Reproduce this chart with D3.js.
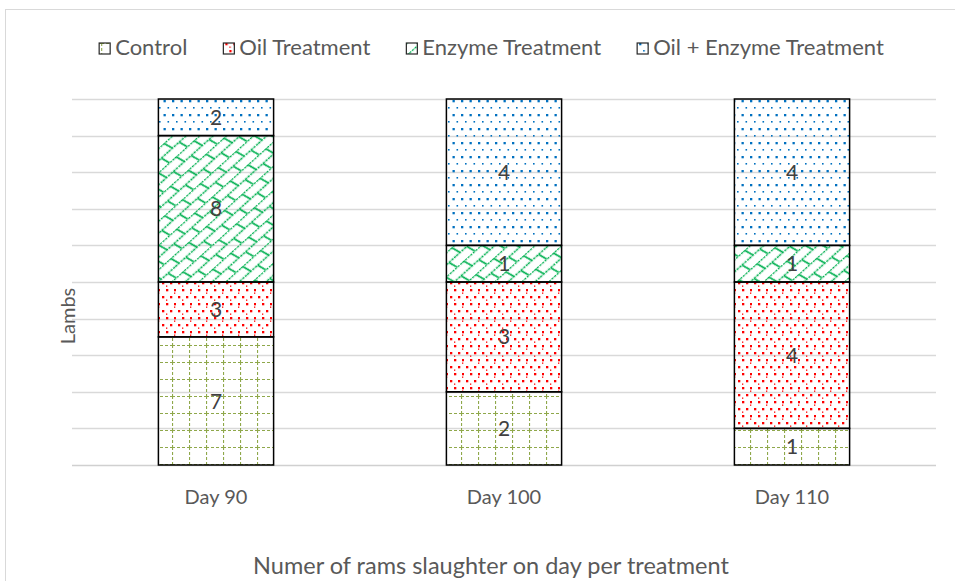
<!DOCTYPE html>
<html>
<head>
<meta charset="utf-8">
<script src="https://cdn.jsdelivr.net/npm/d3@7"></script>
<style>
    body { margin: 0; background: #fff; }
    #chart-container { width: 955px; height: 581px; }
    text { font-family: Lato, "Open Sans", sans-serif; }
</style>
</head>
<body>
<div id="chart-container"></div>
<script>
// chart values
var categories = ["Day 90", "Day 100", "Day 110"];
var seriesNames = ["Control", "Oil Treatment", "Enzyme Treatment", "Oil + Enzyme Treatment"];
var controlValues = [7, 2, 1];
var oilValues = [3, 3, 4];
var enzymeValues = [8, 1, 1];
var oilEnzymeValues = [2, 4, 4];
var gridTicks = [0, 0.1, 0.2, 0.3, 0.4, 0.5, 0.6, 0.7, 0.8, 0.9, 1];
var yAxisTitle = "Lambs";
var chartTitle = "Numer of rams slaughter on day per treatment";

function buildPatterns(defs) {
    // Control: dashed olive grid
    var p1 = defs.append("pattern")
        .attr("id", "pat-control")
        .attr("patternUnits", "userSpaceOnUse")
        .attr("width", 17).attr("height", 17)
        .attr("x", 2).attr("y", 5);
    p1.append("line").attr("x1", 0.5).attr("y1", 0).attr("x2", 0.5).attr("y2", 17)
        .attr("stroke", "#8FA84A").attr("stroke-width", 1.2).attr("stroke-dasharray", "3 2");
    p1.append("line").attr("x1", 0).attr("y1", 0.5).attr("x2", 17).attr("y2", 0.5)
        .attr("stroke", "#8FA84A").attr("stroke-width", 1.2).attr("stroke-dasharray", "3 2");

    // Oil: red dots
    var p2 = defs.append("pattern")
        .attr("id", "pat-oil")
        .attr("patternUnits", "userSpaceOnUse")
        .attr("width", 16).attr("height", 14);
    [[2, 2, 2.3], [10, 2, 2.3], [6, 9, 2.3], [14, 9, 2.3], [6, 5.5, 1.3], [14, 12.5, 1.3]].forEach(function(d) {
        p2.append("rect").attr("x", d[0]).attr("y", d[1]).attr("width", d[2]).attr("height", d[2])
            .attr("fill", "#FF0000");
    });

    // Enzyme: green diagonal brick
    var green = "#00B050";
    var p3 = defs.append("pattern")
        .attr("id", "pat-enzyme")
        .attr("patternUnits", "userSpaceOnUse")
        .attr("width", 24).attr("height", 18)
        .attr("patternTransform", "rotate(-42)");
    p3.append("line").attr("x1", 0).attr("y1", 0.5).attr("x2", 24).attr("y2", 0.5)
        .attr("stroke", green).attr("stroke-width", 1.7).attr("stroke-dasharray", "2.5 1");
    p3.append("line").attr("x1", 0).attr("y1", 9.5).attr("x2", 24).attr("y2", 9.5)
        .attr("stroke", green).attr("stroke-width", 1.7).attr("stroke-dasharray", "2.5 1");
    p3.append("line").attr("x1", 2).attr("y1", 0.5).attr("x2", 5).attr("y2", 9.5)
        .attr("stroke", green).attr("stroke-width", 1.7);
    p3.append("line").attr("x1", 14).attr("y1", 9.5).attr("x2", 17).attr("y2", 18.5)
        .attr("stroke", green).attr("stroke-width", 1.7);

    // Oil + Enzyme: blue dots
    var p4 = defs.append("pattern")
        .attr("id", "pat-oilenzyme")
        .attr("patternUnits", "userSpaceOnUse")
        .attr("width", 17).attr("height", 14);
    [[2, 2, 2.3], [10.5, 2, 2.3], [6, 9, 1.6], [14.5, 9, 1.6]].forEach(function(d) {
        p4.append("rect").attr("x", d[0]).attr("y", d[1]).attr("width", d[2]).attr("height", d[2])
            .attr("fill", "#0070C0");
    });
}

function drawChart() {
    var width = 955,
        height = 581,
        plotLeft = 72,
        plotRight = 936,
        plotTop = 99,
        plotBottom = 465,
        patternIds = ["pat-control", "pat-oil", "pat-enzyme", "pat-oilenzyme"],
        allValues = [controlValues, oilValues, enzymeValues, oilEnzymeValues];

    var svg = d3.select("#chart-container")
        .append("svg")
        .attr("width", width)
        .attr("height", height);

    buildPatterns(svg.append("defs"));

    // outer border
    svg.append("rect")
        .attr("x", 5.5).attr("y", 9.5)
        .attr("width", 1000).attr("height", 1000)
        .attr("fill", "none")
        .attr("stroke", "#D9D9D9");

    var x = d3.scaleBand()
        .domain(categories)
        .range([plotLeft, plotRight])
        .paddingInner(0.6)
        .paddingOuter(0.3);

    var y = d3.scaleLinear()
        .domain([0, 1])
        .range([plotBottom, plotTop]);

    // gridlines
    svg.append("g")
        .attr("class", "grid")
        .selectAll("line")
        .data(gridTicks)
        .enter()
        .append("line")
        .attr("x1", plotLeft)
        .attr("x2", plotRight)
        .attr("y1", function(d) { return Math.round(y(d)) + 0.5; })
        .attr("y2", function(d) { return Math.round(y(d)) + 0.5; })
        .attr("stroke", function(d) { return d === 0 ? "#D0D0D0" : "#D9D9D9"; })
        .attr("stroke-width", 1.3);

    // build 100% stacked data
    var rows = categories.map(function(c, i) {
        var row = { category: c };
        var total = 0;
        seriesNames.forEach(function(s, j) { total += allValues[j][i]; });
        seriesNames.forEach(function(s, j) { row[s] = allValues[j][i] / total; row[s + "_raw"] = allValues[j][i]; });
        return row;
    });

    var stack = d3.stack().keys(seriesNames);
    var layers = stack(rows);

    var layerGroups = svg.append("g")
        .attr("class", "bars")
        .selectAll("g")
        .data(layers)
        .enter()
        .append("g")
        .attr("fill", function(d, i) { return "url(#" + patternIds[i] + ")"; });

    layerGroups.selectAll("rect")
        .data(function(d) { return d; })
        .enter()
        .append("rect")
        .attr("x", function(d) { return x(d.data.category); })
        .attr("y", function(d) { return y(d[1]); })
        .attr("width", x.bandwidth())
        .attr("height", function(d) { return y(d[0]) - y(d[1]); })
        .attr("stroke", "#000")
        .attr("stroke-width", 1.5);

    // segment labels
    layers.forEach(function(layer) {
        svg.append("g")
            .selectAll("text")
            .data(layer)
            .enter()
            .append("text")
            .attr("x", function(d) { return x(d.data.category) + x.bandwidth() / 2; })
            .attr("y", function(d) { return (y(d[0]) + y(d[1])) / 2; })
            .attr("dy", "0.36em")
            .attr("text-anchor", "middle")
            .attr("font-size", 21)
            .attr("fill", "#404040")
            .text(function(d) { return d.data[layer.key + "_raw"]; });
    });

    // x axis labels
    var xAxis = d3.axisBottom(x).tickSize(0).tickPadding(0);
    var xg = svg.append("g")
        .attr("transform", "translate(0," + 504 + ")")
        .call(xAxis);
    xg.select(".domain").remove();
    xg.attr("font-family", null).attr("font-size", null);
    xg.selectAll("text")
        .attr("dy", 0)
        .attr("font-size", 20)
        .attr("fill", "#595959");

    // y axis title
    svg.append("text")
        .attr("transform", "translate(75,316) rotate(-90)")
        .attr("text-anchor", "middle")
        .attr("font-size", 20)
        .attr("fill", "#595959")
        .text(yAxisTitle);

    // chart title at bottom
    svg.append("text")
        .attr("x", 491)
        .attr("y", 574)
        .attr("text-anchor", "middle")
        .attr("font-size", 23.5)
        .attr("fill", "#595959")
        .text(chartTitle);

    // legend
    var legend = svg.append("g").attr("class", "legend");
    var items = legend.selectAll("g")
        .data(seriesNames)
        .enter()
        .append("g");

    items.append("rect")
        .attr("width", 11)
        .attr("height", 11)
        .attr("y", -12)
        .attr("fill", function(d, i) { return "url(#" + patternIds[i] + ")"; })
        .attr("stroke", "#262626")
        .attr("stroke-width", 1.2);

    items.append("text")
        .attr("x", 16)
        .attr("y", 0)
        .attr("font-size", 22)
        .attr("fill", "#595959")
        .text(function(d) { return d; });

    var gap = 36, offsets = [], cursor = 0;
    items.each(function() {
        offsets.push(cursor);
        cursor += 16 + this.querySelector("text").getComputedTextLength() + gap;
    });
    var total = cursor - gap;
    var startX = 491.5 - total / 2;
    items.attr("transform", function(d, i) {
        return "translate(" + (startX + offsets[i]) + ",55)";
    });
}

drawChart();
</script>
</body>
</html>
